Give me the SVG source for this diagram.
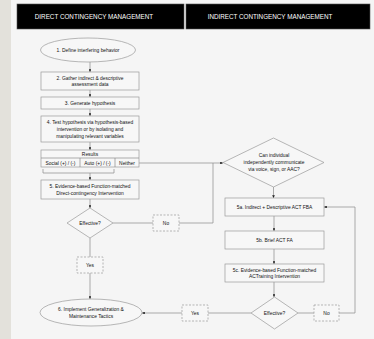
<svg xmlns="http://www.w3.org/2000/svg" width="374" height="339" viewBox="0 0 374 339">
  <style>
    .hdr { fill: #000; stroke: #555; stroke-width: 0.6; }
    .hdrtxt { fill: #fff; font-family: "Liberation Sans", Arial, sans-serif; font-size: 6.3px; text-anchor: middle; }
    .box { fill: #f7f7f7; stroke: #9a9a9a; stroke-width: 0.7; }
    .dash { fill: #f7f7f7; stroke: #9a9a9a; stroke-width: 0.7; stroke-dasharray: 2 1.5; }
    .t { fill: #111; font-family: "Liberation Sans", Arial, sans-serif; font-size: 4.9px; text-anchor: middle; }
    .ln { fill: none; stroke: #8a8a8a; stroke-width: 0.7; }
  </style>
  <defs>
    <marker id="ah" viewBox="0 0 6 6" refX="6" refY="3" markerWidth="4" markerHeight="4" orient="auto">
      <path d="M0,0 L6,3 L0,6 z" fill="#222"/>
    </marker>
  </defs>

  <!-- page -->
  <rect x="0" y="0" width="374" height="339" fill="#f5f5f5"/>
  <rect x="0" y="0" width="11" height="339" fill="#e3e1db"/>

  <!-- column headers -->
  <g id="header-direct">
    <rect class="hdr" x="17" y="4" width="167" height="25"/>
    <text class="hdrtxt" x="94" y="19">DIRECT CONTINGENCY MANAGEMENT</text>
  </g>
  <g id="header-indirect">
    <rect class="hdr" x="186" y="4" width="184" height="25"/>
    <text class="hdrtxt" x="270" y="19">INDIRECT CONTINGENCY MANAGEMENT</text>
  </g>

  <!-- connectors -->
  <g id="connectors">
    <line class="ln" x1="90" y1="62" x2="90" y2="72" marker-end="url(#ah)"/>
    <line class="ln" x1="90" y1="90" x2="90" y2="97" marker-end="url(#ah)"/>
    <line class="ln" x1="90" y1="109" x2="90" y2="116" marker-end="url(#ah)"/>
    <line class="ln" x1="90" y1="142" x2="90" y2="150" marker-end="url(#ah)"/>
    <!-- bracket joining Social / Auto -->
    <path class="ln" d="M43,169 V173 H114 V169"/>
    <line class="ln" x1="90" y1="173" x2="90" y2="180" marker-end="url(#ah)"/>
    <line class="ln" x1="90" y1="199" x2="90" y2="208" marker-end="url(#ah)"/>
    <!-- Neither -> communication check -->
    <line class="ln" x1="139" y1="163" x2="223" y2="163" marker-end="url(#ah)"/>
    <!-- left Effective? No -->
    <line class="ln" x1="113" y1="223" x2="153" y2="223"/>
    <path class="ln" d="M179,223 H213 V163"/>
    <!-- left Effective? Yes -->
    <line class="ln" x1="90" y1="238" x2="90" y2="257"/>
    <line class="ln" x1="90" y1="273" x2="90" y2="299" marker-end="url(#ah)"/>
    <!-- right column -->
    <line class="ln" x1="273.5" y1="187" x2="273.5" y2="198" marker-end="url(#ah)"/>
    <line class="ln" x1="274" y1="216" x2="274" y2="231" marker-end="url(#ah)"/>
    <line class="ln" x1="274" y1="249" x2="274" y2="264" marker-end="url(#ah)"/>
    <line class="ln" x1="274" y1="282" x2="274" y2="297" marker-end="url(#ah)"/>
    <!-- right Effective? No loop back to 5a -->
    <line class="ln" x1="298" y1="313" x2="314" y2="313"/>
    <path class="ln" d="M339,313 H355 V207 H324" marker-end="url(#ah)"/>
    <!-- right Effective? Yes -> 6 -->
    <line class="ln" x1="251" y1="313" x2="208" y2="313"/>
    <line class="ln" x1="182" y1="313" x2="142" y2="313" marker-end="url(#ah)"/>
  </g>

  <!-- direct contingency column -->
  <g id="n1">
    <ellipse class="box" cx="88" cy="50" rx="47.5" ry="12"/>
    <text class="t" x="88" y="52">1. Define interfering behavior</text>
  </g>
  <g id="n2">
    <rect class="box" x="41" y="72" width="98" height="18"/>
    <text class="t" x="90" y="79.5">2. Gather indirect &amp; descriptive</text>
    <text class="t" x="90" y="86">assessment data</text>
  </g>
  <g id="n3">
    <rect class="box" x="41" y="97" width="98" height="12"/>
    <text class="t" x="90" y="104.8">3. Generate hypothesis</text>
  </g>
  <g id="n4">
    <rect class="box" x="41" y="116" width="98" height="26"/>
    <text class="t" x="90" y="123.5">4. Test hypothesis via hypothesis-based</text>
    <text class="t" x="90" y="130.5">intervention or by isolating and</text>
    <text class="t" x="90" y="137.5">manipulating relevant variables</text>
  </g>
  <g id="results">
    <rect class="box" x="41" y="150" width="98" height="17"/>
    <line class="ln" x1="41" y1="158" x2="139" y2="158"/>
    <line class="ln" x1="80" y1="158" x2="80" y2="167"/>
    <line class="ln" x1="115" y1="158" x2="115" y2="167"/>
    <text class="t" x="90" y="156">Results</text>
    <text class="t" x="60.5" y="164.5">Social (+) / (-)</text>
    <text class="t" x="97.5" y="164.5">Auto (+) / (-)</text>
    <text class="t" x="127" y="164.5">Neither</text>
  </g>
  <g id="n5">
    <rect class="box" x="41" y="180" width="98" height="19"/>
    <text class="t" x="90" y="188">5. Evidence-based Function-matched</text>
    <text class="t" x="90" y="194.5">Direct-contingency Intervention</text>
  </g>
  <g id="effective-direct">
    <polygon class="box" points="90,208 113,223 90,238 67,223"/>
    <text class="t" x="90" y="225">Effective?</text>
  </g>
  <g id="no-direct">
    <rect class="dash" x="153" y="215" width="26" height="16"/>
    <text class="t" x="166" y="225">No</text>
  </g>
  <g id="yes-direct">
    <rect class="dash" x="77" y="257" width="26" height="16"/>
    <text class="t" x="90" y="267">Yes</text>
  </g>
  <g id="n6">
    <ellipse class="box" cx="91" cy="312.5" rx="51" ry="13.5"/>
    <text class="t" x="91" y="311">6. Implement Generalization &amp;</text>
    <text class="t" x="91" y="317.5">Maintenance Tactics</text>
  </g>

  <!-- indirect contingency column -->
  <g id="communicate">
    <polygon class="box" points="273.5,138 324,162.5 273.5,187 223,162.5"/>
    <text class="t" x="274" y="157">Can individual</text>
    <text class="t" x="274" y="164">independently communicate</text>
    <text class="t" x="274" y="171">via voice, sign, or AAC?</text>
  </g>
  <g id="n5a">
    <rect class="box" x="225" y="198" width="99" height="18"/>
    <text class="t" x="274.5" y="208.8">5a. Indirect + Descriptive ACT FBA</text>
  </g>
  <g id="n5b">
    <rect class="box" x="225" y="231" width="99" height="18"/>
    <text class="t" x="274.5" y="241.8">5b. Brief ACT FA</text>
  </g>
  <g id="n5c">
    <rect class="box" x="225" y="264" width="99" height="18"/>
    <text class="t" x="274.5" y="271.5">5c. Evidence-based Function-matched</text>
    <text class="t" x="274.5" y="278">ACTraining Intervention</text>
  </g>
  <g id="effective-indirect">
    <polygon class="box" points="274.5,297 298,313 274.5,329 251,313"/>
    <text class="t" x="274.5" y="315">Effective?</text>
  </g>
  <g id="no-indirect">
    <rect class="dash" x="314" y="305" width="25" height="16"/>
    <text class="t" x="326.5" y="315">No</text>
  </g>
  <g id="yes-indirect">
    <rect class="dash" x="182" y="305" width="26" height="16"/>
    <text class="t" x="195" y="315">Yes</text>
  </g>
</svg>
